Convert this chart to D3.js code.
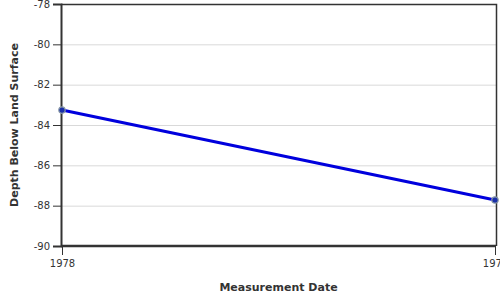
<!DOCTYPE html>
<html>
<head>
<meta charset="utf-8">
<script src="https://cdn.jsdelivr.net/npm/d3@7"></script>
<style>
  body { margin: 0; background: #fff; }
  text { font-family: "DejaVu Sans", sans-serif; }
</style>
</head>
<body>
<div id="viz"></div>
<script>
// measurements
var dates = ["1978-01-05", "1978-12-20"]
var depths = [-83.26, -87.72]
var yTicks = [-90, -88, -86, -84, -82, -80, -78]

var parse = d3.timeParse("%Y-%m-%d")
var data = dates.map(function (d, i) { return { date: parse(d), depth: depths[i] } })

var width = 500, height = 300
var margin = { top: 4, right: 4, bottom: 54, left: 61 }
var w = width - margin.left - margin.right
var h = height - margin.top - margin.bottom

var svg = d3.select("#viz").append("svg")
  .attr("width", width)
  .attr("height", height)

var g = svg.append("g")
  .attr("transform", "translate(" + margin.left + "," + margin.top + ")")

var x = d3.scaleTime()
  .domain(d3.extent(data, function (d) { return d.date }))
  .range([1, w - 1])

var y = d3.scaleLinear()
  .domain([-90, -78])
  .range([h, 0])

// grid
g.selectAll(".grid").data(yTicks.slice(1)).enter().append("line")
  .attr("class", "grid")
  .attr("x1", 0).attr("x2", w)
  .attr("y1", function (d) { return y(d) + 0.5 })
  .attr("y2", function (d) { return y(d) + 0.5 })
  .style("stroke", "#d9d9d9")
  .style("stroke-width", 1)

// frame top & right
g.append("path")
  .attr("d", "M0,0.5H" + (w + 0.5) + "V" + h)
  .style("fill", "none")
  .style("stroke", "#333")
  .style("stroke-width", 1.5)

// y axis (plain hyphen for negatives)
var yAxis = g.append("g")
  .call(d3.axisLeft(y).tickValues(yTicks).tickSize(8).tickPadding(3)
    .tickFormat(function (d) { return String(d) }))
yAxis.select(".domain").style("stroke", "#333").style("stroke-width", 2)
yAxis.selectAll(".tick line").style("stroke", "#333")
yAxis.selectAll("text").style("font-size", "10px").style("fill", "#333")

// x axis
var xAxis = g.append("g")
  .attr("transform", "translate(0," + h + ")")
  .call(d3.axisBottom(x).tickValues(data.map(function (d) { return d.date }))
    .tickSize(9).tickPadding(5).tickFormat(d3.timeFormat("%Y")))
xAxis.select(".domain").attr("d", "M0,0H" + w).style("stroke", "#333").style("stroke-width", 2.5)
xAxis.selectAll(".tick line").style("stroke", "#333")
xAxis.selectAll("text").style("font-size", "10px").style("fill", "#333")

// line
var line = d3.line()
  .x(function (d) { return x(d.date) })
  .y(function (d) { return y(d.depth) })

g.append("path")
  .datum(data)
  .attr("d", line)
  .style("fill", "none")
  .style("stroke", "#0000dd")
  .style("stroke-width", 3)

g.selectAll(".pt").data(data).enter().append("circle")
  .attr("class", "pt")
  .attr("cx", function (d) { return x(d.date) })
  .attr("cy", function (d) { return y(d.depth) })
  .attr("r", 3.2)
  .style("fill", "#1a2fa8")
  .style("stroke", "#8a9aa8")
  .style("stroke-width", 1.2)

// titles
svg.append("text")
  .attr("x", margin.left + w / 2)
  .attr("y", 291)
  .attr("text-anchor", "middle")
  .style("font-size", "11px")
  .style("font-weight", "bold")
  .style("fill", "#333")
  .text("Measurement Date")

svg.append("text")
  .attr("transform", "translate(18," + (margin.top + h / 2) + ") rotate(-90)")
  .attr("text-anchor", "middle")
  .style("font-size", "11px")
  .style("font-weight", "bold")
  .style("fill", "#333")
  .text("Depth Below Land Surface")
</script>
</body>
</html>
